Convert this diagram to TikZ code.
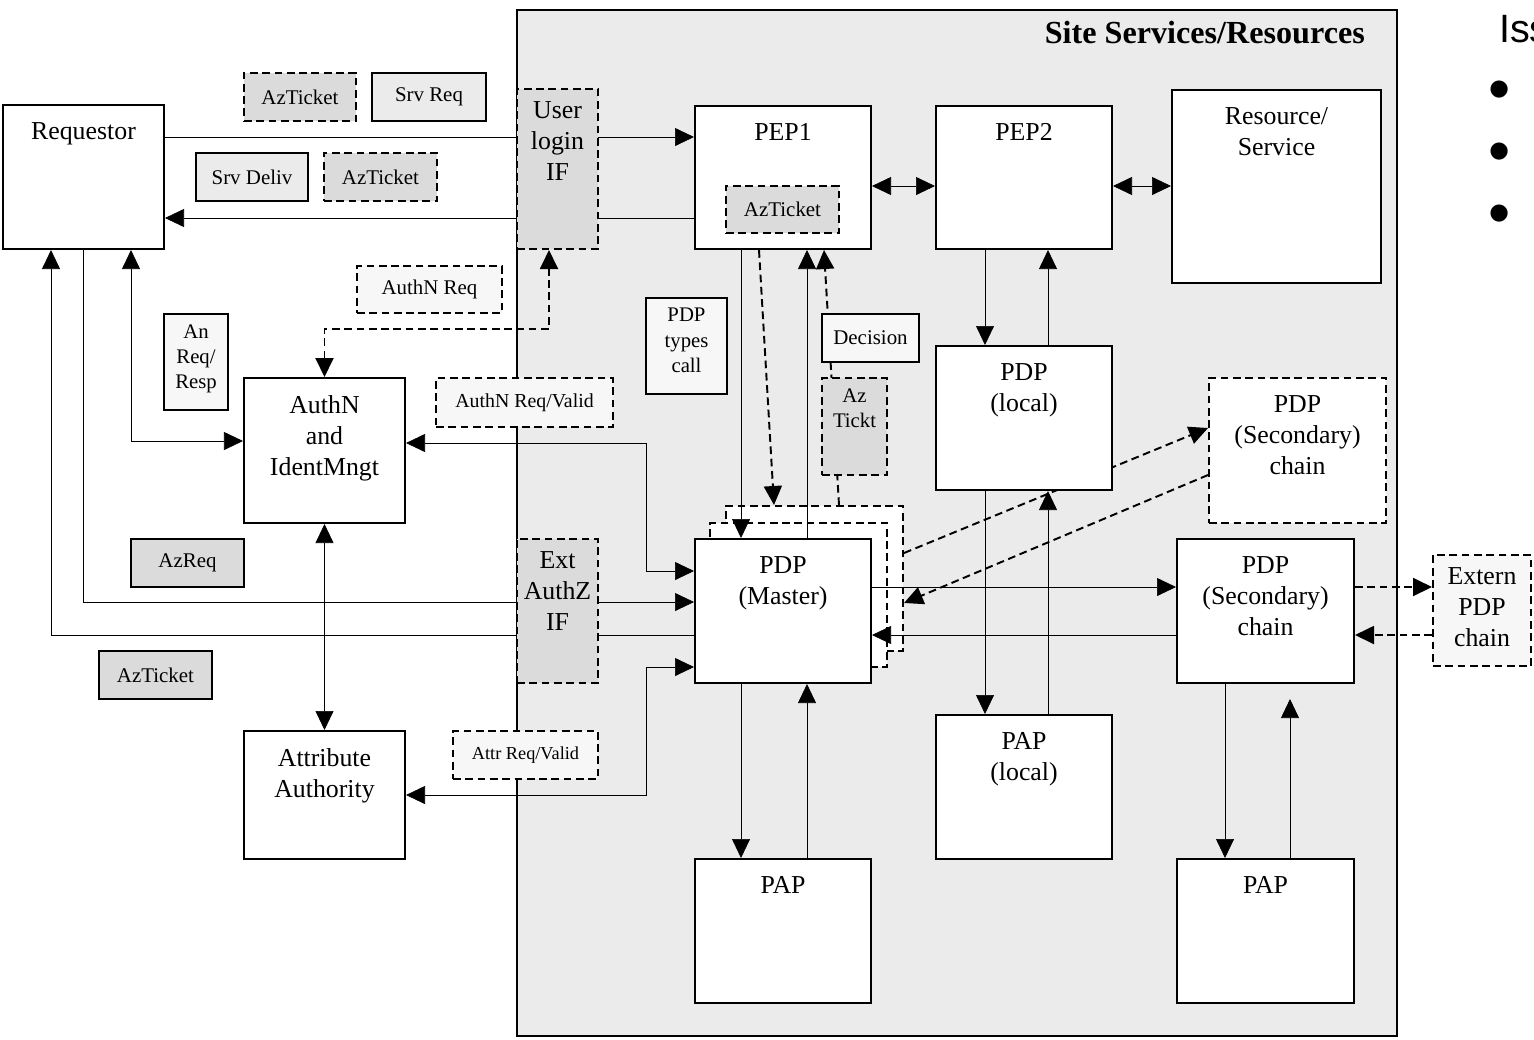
\documentclass[tikz,border=0pt]{standalone}
\usepackage{fontspec}
\setmainfont{Liberation Serif}
\newfontfamily\sansf{Liberation Sans}
\usepackage{tikz}
\usetikzlibrary{arrows.meta}
\pgfdeclarelayer{bg}
\pgfdeclarelayer{wires}
\pgfsetlayers{bg,wires,main}
\begin{document}
\begin{tikzpicture}[x=0.02cm, y=-0.02cm, line width=1pt,
  >={Triangle[length=0.38cm,width=0.36cm]},
  sz/.style 2 args={minimum width=#1*0.02cm, minimum height=#2*0.02cm},
  box/.style={draw, line width=1.15pt, fill=white, inner sep=0pt},
  dl/.style={line width=1.1pt, dash pattern=on 4.4pt off 2.6pt},
  dbox/.style={box, dl, line width=1.15pt},
  tag/.style={font=\fontsize{11.9}{14.4}\selectfont, align=center},
  hd/.style={label={[anchor=north, align=center, inner sep=0pt, yshift=-0.36cm, font=\fontsize{14.7}{17.6}\selectfont]north:#1}},
  hdif/.style={label={[anchor=north, align=center, inner sep=0pt, yshift=-0.26cm, font=\fontsize{14.7}{17.6}\selectfont]north:#1}},
  hdsm/.style={label={[anchor=north, align=center, inner sep=0pt, yshift=-0.22cm, font=\fontsize{11.8}{14.4}\selectfont]north:#1}}]

\useasboundingbox (0,0) rectangle (1534,1039);

\begin{pgfonlayer}{bg}
\node[box, fill=black!8, line width=1.5pt, sz={880}{1026}] (site) at (957,523) {};
\node[dbox, sz={177}{145}] (shB) at (814.5,578.5) {};
\node[dbox, sz={177}{144}] (shA) at (798.5,595) {};
\end{pgfonlayer}

\node[anchor=east, font=\fontsize{18.3}{20}\selectfont\bfseries] (title) at (1371,33) {Site Services/Resources};
\node[anchor=base west, font=\sansf\fontsize{22.5}{27}\selectfont] (iss) at (1493,42) {Iss};
\foreach \y [count=\i] in {110,172,234} \node[anchor=base, inner sep=0pt, font=\sansf\fontsize{36}{40}\selectfont] (dot\i) at (1500,\y) {•};

\node[box, sz={161}{144}, hd=Requestor] (req) at (83.5,177) {};
\node[dbox, fill=black!14, sz={112}{48}, tag] (tkA) at (300,97) {AzTicket};
\node[box, fill=black!8, sz={114}{48}, tag] (srvreq) at (429,97) {Srv Req};
\node[box, fill=black!8, sz={112}{48}, tag] (srvdel) at (252,177) {Srv Deliv};
\node[dbox, fill=black!14, sz={113}{48}, tag] (tkB) at (380.5,177) {AzTicket};
\node[dbox, fill=black!14, sz={81}{160}, hdif={User\\login\\IF}] (ulif) at (557.5,169) {};
\node[box, sz={176}{143}, hd=PEP1] (pep1) at (783,177.5) {};
\node[dbox, fill=black!14, sz={113}{47}, tag] (tkC) at (782.5,209.5) {AzTicket};
\node[box, sz={176}{143}, hd=PEP2] (pep2) at (1024,177.5) {};
\node[box, sz={209}{193}, hd={Resource/\\Service}] (res) at (1276.5,186.5) {};
\node[dbox, fill=black!3, sz={145}{47}, tag] (anreq) at (429.5,289.5) {AuthN Req};
\node[box, fill=black!3, sz={64}{96}, hdsm={An\\Req/\\Resp}] (anresp) at (196,362) {};
\node[box, sz={161}{145}, hd={AuthN\\and\\IdentMngt}] (authn) at (324.5,450.5) {};
\node[dbox, fill=black!3, sz={177}{49}, tag, font=\fontsize{11.3}{13}\selectfont] (anval) at (524.5,402.5) {AuthN Req/Valid};
\node[box, fill=black!3, sz={81}{96}, hdsm={PDP\\types\\call}] (types) at (686.5,346) {};
\node[box, fill=black!3, sz={97}{48}, tag] (dec) at (870.5,338) {Decision};
\node[dbox, fill=black!14, sz={65}{97}, hdsm={Az\\Tickt}] (tkD) at (854.5,426.5) {};
\node[box, sz={176}{144}, hd={PDP\\(local)}] (pdpl) at (1024,418) {};
\node[dbox, sz={177}{145}, hd={PDP\\(Secondary)\\chain}] (pdpx) at (1297.5,450.5) {};
\node[box, fill=black!14, sz={113}{48}, tag] (azreq) at (187.5,563) {AzReq};
\node[dbox, fill=black!14, sz={81}{144}, hdif={Ext\\AuthZ\\IF}] (extif) at (557.5,611) {};
\node[box, sz={176}{144}, hd={PDP\\(Master)}] (pdpm) at (783,611) {};
\node[box, sz={177}{144}, hd={PDP\\(Secondary)\\chain}] (pdps) at (1265.5,611) {};
\node[dbox, fill=black!3, sz={98}{111}, hdif={Extern\\PDP\\chain}] (ext) at (1482,610.5) {};
\node[box, fill=black!14, sz={113}{48}, tag] (tkE) at (155.5,675) {AzTicket};
\node[box, sz={161}{128}, hd={Attribute\\Authority}] (attr) at (324.5,795) {};
\node[dbox, fill=black!3, sz={145}{48}, tag, font=\fontsize{10.4}{12}\selectfont] (atval) at (525.5,755) {Attr Req/Valid};
\node[box, sz={176}{144}, hd=PAP] (pap) at (783,931) {};
\node[box, sz={176}{144}, hd={PAP\\(local)}] (papl) at (1024,787) {};
\node[box, sz={177}{144}, hd=PAP] (papr) at (1265.5,931) {};

\begin{pgfonlayer}{wires}
\draw[->] (req.east |- 0,137) -- (pep1.west |- 0,137);
\draw[->] (pep1.west |- 0,218) -- (req.east |- 0,218);
\draw[<->] (pep1.east |- 0,186) -- (pep2.west |- 0,186);
\draw[<->] (pep2.east |- 0,186) -- (res.west |- 0,186);
\draw[<->] (req.south -| 131,0) |- (authn.west |- 0,441);
\draw[->] (req.south -| 83,0) |- (pdpm.west |- 0,602);
\draw[->] (pdpm.west |- 0,635) -| (req.south -| 51,0);
\draw[<->] (authn.east |- 0,443) -- (646,443) -- (646,571) -- (pdpm.west |- 0,571);
\draw[<->] (attr.east |- 0,795) -- (646,795) -- (646,667) -- (pdpm.west |- 0,667);
\draw[<->] (authn.south) -- (attr.north);
\draw[dl,<->] (authn.north) |- (549,329) -- (ulif.south -| 549,0);
\draw[->] (pep1.south -| 741,0) -- (pdpm.north -| 741,0);
\draw[->] (pdpm.north -| 807,0) -- (pep1.south -| 807,0);
\draw[dl,->] (pep1.south -| 759,0) -- (shB.north -| 774,0);
\draw[dl,->] (shB.north -| 839,0) -- (pep1.south -| 824,0);
\draw[->] (pep2.south -| 985,0) -- (pdpl.north -| 985,0);
\draw[->] (pdpl.north -| 1048,0) -- (pep2.south -| 1048,0);
\draw[->] (pdpl.south -| 985,0) -- (papl.north -| 985,0);
\draw[->] (papl.north -| 1048,0) -- (pdpl.south -| 1048,0);
\draw[->] (pdpm.east |- 0,587) -- (pdps.west |- 0,587);
\draw[->] (pdps.west |- 0,635) -- (pdpm.east |- 0,635);
\draw[dl,->] (shB.east |- 0,553) -- (pdpx.west |- 0,428);
\draw[dl,->] (pdpx.west |- 0,475) -- (shB.east |- 0,603);
\draw[dl,->] (pdps.east |- 0,587) -- (ext.west |- 0,587);
\draw[dl,->] (ext.west |- 0,635) -- (pdps.east |- 0,635);
\draw[->] (pdps.south -| 1225,0) -- (papr.north -| 1225,0);
\draw[->, shorten >=0.3cm] (papr.north -| 1290,0) -- (pdps.south -| 1290,0);
\draw[->] (pdpm.south -| 741,0) -- (pap.north -| 741,0);
\draw[->] (pap.north -| 807,0) -- (pdpm.south -| 807,0);
\end{pgfonlayer}

\end{tikzpicture}
\end{document}
